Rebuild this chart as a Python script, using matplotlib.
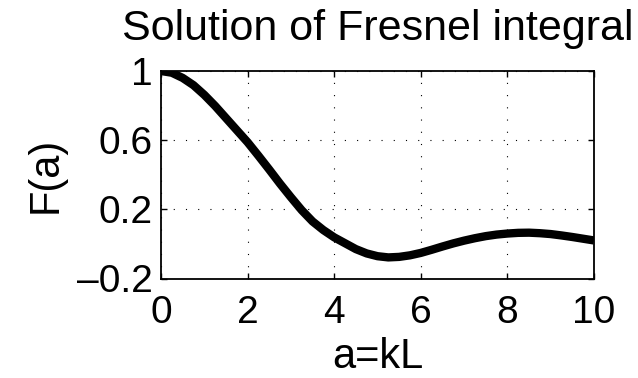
import matplotlib
matplotlib.use("Agg")
import matplotlib.pyplot as plt

a_vals = [0.0, 0.25, 0.5, 0.75, 1.0, 1.25, 1.5, 1.75, 2.0, 2.25, 2.5, 2.75, 3.0, 3.25,
          3.5, 3.75, 4.0, 4.25, 4.5, 4.75, 5.0, 5.25, 5.5, 5.75, 6.0, 6.25, 6.5, 6.75,
          7.0, 7.25, 7.5, 7.75, 8.0, 8.25, 8.5, 8.75, 9.0, 9.25, 9.5, 9.75, 10.0]
F_vals = [1.000, 0.990, 0.960, 0.918, 0.862, 0.798, 0.728, 0.658, 0.588, 0.510, 0.430,
          0.348, 0.270, 0.195, 0.130, 0.080, 0.038, 0.004, -0.030, -0.055, -0.071,
          -0.078, -0.075, -0.066, -0.052, -0.034, -0.015, 0.003, 0.019, 0.033, 0.045,
          0.054, 0.060, 0.064, 0.065, 0.062, 0.057, 0.049, 0.040, 0.030, 0.020]

x_ticks = [0, 2, 4, 6, 8, 10]
y_ticks = [-0.2, 0.2, 0.6, 1.0]
y_tick_labels = ["\u20130.2", "0.2", "0.6", "1"]

plt.rcParams['font.family'] = ['Liberation Sans', 'DejaVu Sans']

fig = plt.figure(figsize=(6.38, 3.78), dpi=100)
ax = fig.add_axes([161 / 638, 1 - 278.5 / 378, (594 - 161) / 638, (278.5 - 71) / 378])

ax.plot(a_vals, F_vals, color='black', linewidth=6, solid_capstyle='butt',
        solid_joinstyle='round')

ax.set_xlim(0, 10)
ax.set_ylim(-0.2, 1.0)
ax.set_xticks(x_ticks)
ax.set_xticklabels([str(t) for t in x_ticks])
ax.set_yticks(y_ticks)
ax.set_yticklabels(y_tick_labels)

ax.tick_params(direction='in', length=4, width=1, top=True, right=True,
               labelsize=28, colors='black')
ax.tick_params(axis='x', pad=12)
ax.tick_params(axis='y', pad=6)

ax.grid(True, color='black', linewidth=0.8, linestyle=(0, (1, 10)))
for s in ax.spines.values():
    s.set_linewidth(1.3)

ax.set_title("Solution of Fresnel integral", fontsize=31, pad=22)
ax.set_xlabel("a=kL", fontsize=30, labelpad=4)
ax.set_ylabel("F(a)", fontsize=30, labelpad=8)

fig.savefig("out.png", dpi=100)
